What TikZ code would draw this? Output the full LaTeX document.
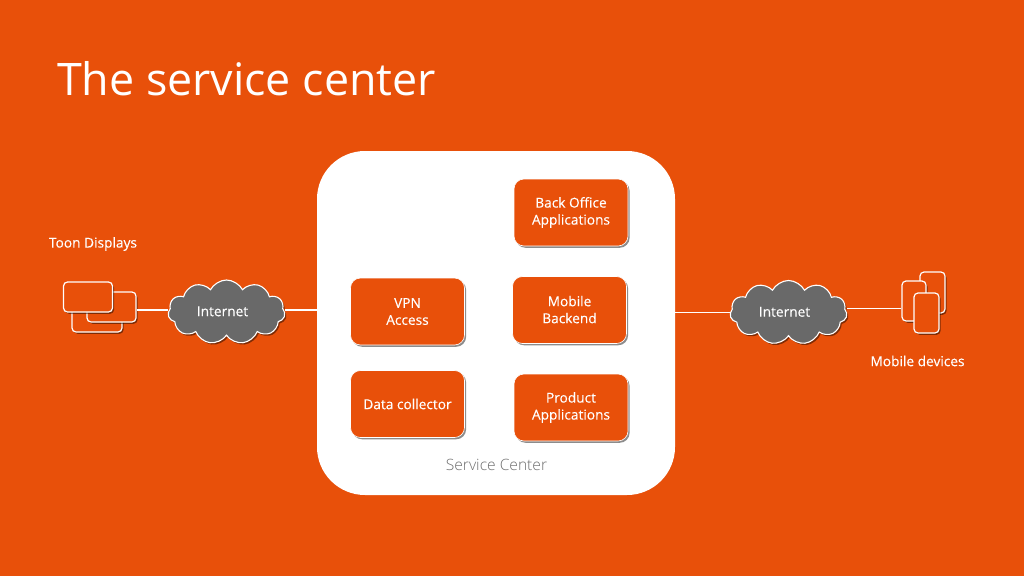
\documentclass[tikz,border=0pt]{standalone}
\usepackage{fontspec}
\setmainfont{Open Sans}
\newfontfamily\labelfont{Open Sans}[FakeBold=0.2]
\newfontfamily\noteface{Open Sans Light}
\usetikzlibrary{shadows,shapes.symbols}
\definecolor{toonorange}{HTML}{E8500A}
\definecolor{cloudgray}{HTML}{696969}
\definecolor{notegray}{HTML}{6E6E6E}
\tikzset{
  softshadow/.style={drop shadow={shadow xshift=1.6pt,shadow yshift=-1.8pt,opacity=0.45,fill=black}},
  appbox/.style={draw=white,line width=0.6pt,fill=toonorange,rounded corners=10pt,text=white,align=center,
    minimum width=114pt,minimum height=67pt,inner sep=0pt,font=\labelfont\fontsize{13.7}{17}\selectfont,softshadow},
  screenbox/.style={draw=white,line width=1.2pt,fill=toonorange,rounded corners=4pt,inner sep=0pt,softshadow},
  netcloud/.style={cloud,cloud puffs=11,cloud puff arc=125,aspect=1.9,draw=white,line width=1.1pt,fill=cloudgray,
    text=white,inner sep=0pt,minimum width=117pt,minimum height=64pt,font=\labelfont\fontsize{13.7}{17}\selectfont,softshadow},
  wire/.style={draw=white,line width=1.2pt},
  plainlabel/.style={text=white,font=\labelfont\fontsize{13.7}{17}\selectfont}
}
\begin{document}
\begin{tikzpicture}[x=1pt,y=-1pt]
      \useasboundingbox (0,0) rectangle (1024,576);
      \fill[toonorange] (0,0) rectangle (1024,576);

      \draw (246.5,79) node[text=white,font=\fontsize{44.8}{52}\selectfont] (title) {The service center};

      % SERVICE CENTER
      \draw (496,323) node[fill=white,rounded corners=48pt,minimum width=358pt,minimum height=344pt,inner sep=0pt] (center) {};
      \draw (496.5,465) node[text=notegray,font=\noteface\fontsize{15.6}{18}\selectfont] (centerlabel) {Service Center};

      \draw (571,212.5) node[appbox] (backoffice) {\raisebox{-1.5pt}{Back Office}\\\raisebox{-1.5pt}{Applications}};
      \draw (569.5,310) node[appbox] (mobileapp) {\raisebox{1pt}{Mobile}\\\raisebox{1pt}{Backend}};
      \draw (571,407.5) node[appbox] (product) {\raisebox{-1.5pt}{Product}\\\raisebox{-1.5pt}{Applications}};
      \draw (407.5,311.5) node[appbox] (vpn) {VPN\\Access};
      \draw (407.5,404) node[appbox] (collector) {Data collector};

      % DISPLAYS
      \draw (97,317.5) node[screenbox,minimum width=50pt,minimum height=29pt] (display3) {};
      \draw (111.5,307) node[screenbox,minimum width=49pt,minimum height=30pt] (display2) {};
      \draw (88,297) node[screenbox,minimum width=49pt,minimum height=30pt] (display1) {};
      \draw (93,244) node[plainlabel] (displaylabel) {Toon Displays};

      % DEVICES
      \draw (932.5,292.5) node[screenbox,minimum width=25pt,minimum height=41pt] (device3) {};
      \draw (914,301) node[screenbox,minimum width=24pt,minimum height=40pt] (device2) {};
      \draw (926.5,313) node[screenbox,minimum width=25pt,minimum height=40pt] (device1) {};
      \draw (917.5,361) node[plainlabel] (devicelabel) {Mobile devices};

      % CLOUDS
      \draw (226.5,312) node[netcloud] (cloudl) {\raisebox{1.5pt}{Internet\hspace{8pt}}};
      \draw (788.5,312.5) node[netcloud] (cloudr) {\raisebox{1.5pt}{Internet\hspace{8pt}}};

      % ARROWS
      \draw[wire] (display2.east |- 0,310) coordinate (wirea) -- (cloudl.west |- wirea);
      \draw[wire] (cloudl.east |- 0,310) coordinate (wireb) -- (center.west |- wireb);
      \draw[wire] (center.east |- 0,312.5) coordinate (wirec) -- (cloudr.west |- wirec);
      \draw[wire] (cloudr.east |- 0,308.5) coordinate (wired) -- (device2.west |- wired);
    \end{tikzpicture}
\end{document}
